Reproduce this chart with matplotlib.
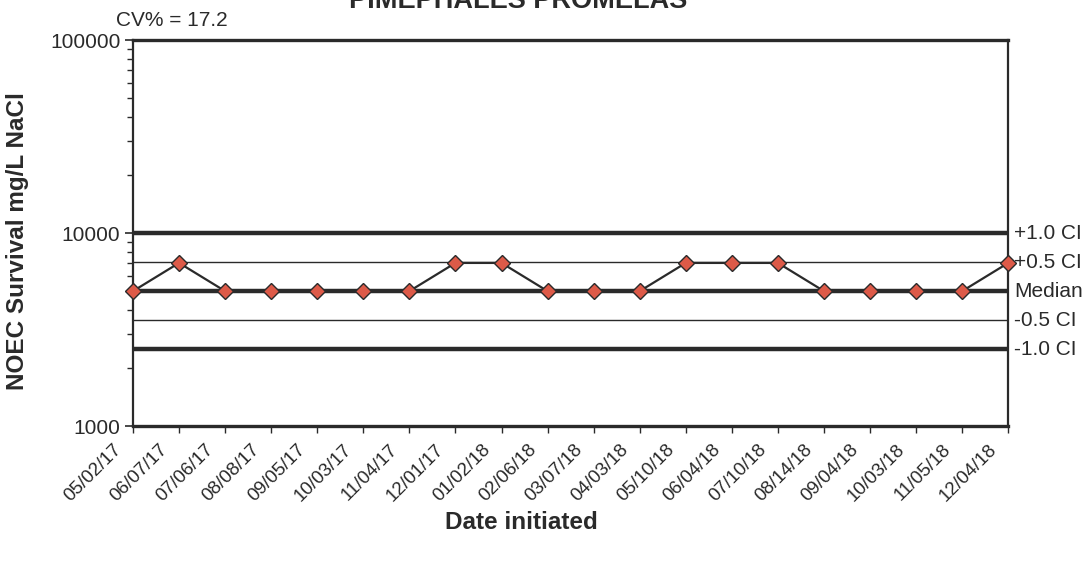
import numpy as np
from matplotlib import pyplot as plt
from matplotlib import transforms

dates = ["05/02/17", "06/07/17", "07/06/17", "08/08/17", "09/05/17", "10/03/17",
         "11/04/17", "12/01/17", "01/02/18", "02/06/18", "03/07/18", "04/03/18",
         "05/10/18", "06/04/18", "07/10/18", "08/14/18", "09/04/18", "10/03/18",
         "11/05/18", "12/04/18"]
noec = [5000, 7000, 5000, 5000, 5000, 5000, 5000, 7000, 7000, 5000,
        5000, 5000, 7000, 7000, 7000, 5000, 5000, 5000, 5000, 7000]

ci_labels = ["+1.0 CI", "+0.5 CI", "Median", "-0.5 CI", "-1.0 CI"]
ci_values = [10000, 7071, 5000, 3536, 2500]
ci_widths = [3.2, 1.0, 3.2, 1.0, 3.2]
cv = 17.2

plt.rcParams['font.family'] = ['Liberation Sans', 'DejaVu Sans']
ink = "#2a2a2a"

fig = plt.figure(figsize=(10.9, 5.61), dpi=100)
ax = fig.add_axes([0.122, 0.2406, 0.803, 0.688])

x = np.arange(len(dates))
for val, lw, lab in zip(ci_values, ci_widths, ci_labels):
    ax.axhline(val, color=ink, lw=lw, zorder=1)
    ax.text(1.007, val, lab, transform=ax.get_yaxis_transform(), ha='left', va='center',
            fontsize=15, color=ink)

ax.plot(x, noec, color=ink, lw=1.6, marker='D', markersize=8,
        markerfacecolor='#dd5a48', markeredgecolor=ink, markeredgewidth=1.0,
        zorder=3, clip_on=False)

ax.set_yscale('log')
ax.set_ylim(1000, 100000)
ax.set_xlim(0, len(dates) - 1)
ax.set_yticks([1000, 10000, 100000])
ax.set_yticklabels(["1000", "10000", "100000"])
ax.tick_params(axis='y', which='major', direction='out', length=6, width=1.2,
               labelsize=15, colors=ink, pad=3)
ax.tick_params(axis='y', which='minor', direction='out', length=4, width=1, colors=ink)
ax.set_xticks(x)
ax.set_xticklabels(dates, rotation=45, ha='right', va='center', rotation_mode='anchor',
                   fontsize=13.5, color=ink)
ax.tick_params(axis='x', direction='out', length=5, width=1, colors=ink, pad=10)
shift = transforms.ScaledTranslation(-14 / 100, 0, fig.dpi_scale_trans)
for lbl in ax.get_xticklabels():
    lbl.set_transform(lbl.get_transform() + shift)

for s in ax.spines.values():
    s.set_color(ink)
    s.set_linewidth(1.6)
ax.spines['top'].set_linewidth(2.4)
ax.spines['bottom'].set_linewidth(2.4)

fig.text(0.0165, 0.57, "NOEC Survival mg/L NaCl", rotation=90, ha='center', va='center',
         fontsize=17.5, fontweight='bold', color=ink)
fig.text(0.478, 0.068, "Date initiated", ha='center', va='center', fontsize=17.5,
         fontweight='bold', color=ink)
fig.text(0.106, 0.963, "CV% = " + str(cv), ha='left', va='center', fontsize=15, color=ink)
fig.text(0.475, 0.986, "PIMEPHALES PROMELAS", ha='center', va='baseline', fontsize=19.5,
         fontweight='bold', color=ink)

fig.savefig("out.png", dpi=100)
